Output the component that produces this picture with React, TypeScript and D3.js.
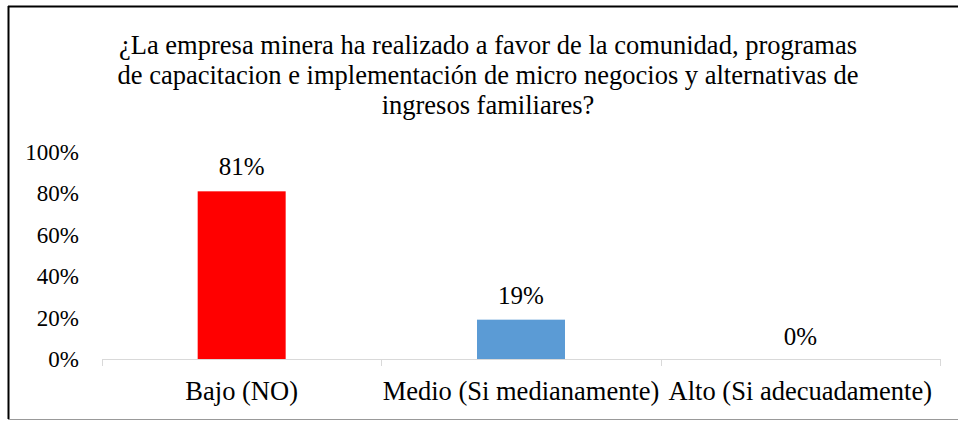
import { useEffect, useRef } from "react";
import * as d3 from "d3";

const WIDTH = 958;
const HEIGHT = 421;
const MARGINS = { LEFT: 102, RIGHT: 18, TOP: 152, BOTTOM: 62 };

const titleLines = [
  "¿La empresa minera ha realizado a favor de la comunidad, programas",
  "de capacitacion e implementación de micro negocios y alternativas de",
  "ingresos familiares?",
];
const categories = ["Bajo (NO)", "Medio (Si medianamente)", "Alto (Si adecuadamente)"];
const values = [0.81, 0.19, 0];
const barColors = ["#ff0000", "#5b9bd5", "#a5a5a5"];
const yTicks = [0, 0.2, 0.4, 0.6, 0.8, 1];

const FONT = "Liberation Serif";

const App = () => {
  const gRef = useRef<SVGGElement | null>(null);

  useEffect(() => {
    const g = d3.select(gRef.current);
    g.selectAll("*").remove();

    const innerW = WIDTH - MARGINS.LEFT - MARGINS.RIGHT;
    const innerH = HEIGHT - MARGINS.TOP - MARGINS.BOTTOM;

    const x = d3.scaleBand<string>().domain(categories).range([0, innerW]).paddingInner(0.685).paddingOuter(0.3425);
    const y = d3.scaleLinear().domain([0, 1]).range([innerH, 0]);

    const plot = g.append("g").attr("transform", `translate(${MARGINS.LEFT},${MARGINS.TOP})`);

    // y tick labels, no axis line
    plot
      .selectAll(".ytick")
      .data(yTicks)
      .join("text")
      .attr("x", -23)
      .attr("y", (d) => y(d))
      .attr("dy", "0.35em")
      .attr("text-anchor", "end")
      .attr("font-family", FONT)
      .attr("font-size", 23)
      .attr("fill", "#000")
      .text((d) => d3.format(".0%")(d));

    // bars
    plot
      .selectAll(".bar")
      .data(values)
      .join("rect")
      .attr("x", (_, i) => x(categories[i])!)
      .attr("y", (d) => y(d))
      .attr("width", x.bandwidth())
      .attr("height", (d) => innerH - y(d))
      .attr("fill", (_, i) => barColors[i]);

    // x axis line + ticks
    const band = innerW / categories.length;
    plot
      .append("line")
      .attr("x1", 0)
      .attr("x2", innerW)
      .attr("y1", innerH + 0.5)
      .attr("y2", innerH + 0.5)
      .attr("stroke", "#d9d9d9")
      .attr("stroke-width", 1);
    plot
      .selectAll(".xtick")
      .data(d3.range(categories.length + 1))
      .join("line")
      .attr("x1", (i) => Math.round(i * band) + 0.5)
      .attr("x2", (i) => Math.round(i * band) + 0.5)
      .attr("y1", innerH)
      .attr("y2", innerH + 7)
      .attr("stroke", "#d9d9d9");

    // data labels
    plot
      .selectAll(".dlabel")
      .data(values)
      .join("text")
      .attr("x", (_, i) => x(categories[i])! + x.bandwidth() / 2)
      .attr("y", (d) => y(d) - (d === 0 ? 14 : 16))
      .attr("text-anchor", "middle")
      .attr("font-family", FONT)
      .attr("font-size", 25)
      .attr("fill", "#000")
      .text((d) => d3.format(".0%")(d));

    // category labels
    plot
      .selectAll(".clabel")
      .data(categories)
      .join("text")
      .attr("x", (d) => x(d)! + x.bandwidth() / 2)
      .attr("y", innerH + 41)
      .attr("text-anchor", "middle")
      .attr("font-family", FONT)
      .attr("font-size", 26.5)
      .attr("fill", "#000")
      .text((d) => d);

    // title
    g.selectAll(".title")
      .data(titleLines)
      .join("text")
      .attr("x", 488)
      .attr("y", (_, i) => 54 + i * 30)
      .attr("text-anchor", "middle")
      .attr("font-family", FONT)
      .attr("font-size", 26.5)
      .attr("fill", "#000")
      .text((d) => d);
  }, []);

  return (
    <svg
      width={WIDTH}
      height={HEIGHT}
      style={{ position: "absolute", left: 0, top: 0, background: "#fff" }}
    >
      <line x1={8} x2={WIDTH} y1={6.5} y2={6.5} stroke="#000" strokeWidth={2} />
      <line x1={8.5} x2={8.5} y1={6} y2={419} stroke="#000" strokeWidth={2} />
      <line x1={8} x2={WIDTH} y1={419.5} y2={419.5} stroke="#999" strokeWidth={1} />
      <g ref={gRef} />
    </svg>
  );
};

export default App;
